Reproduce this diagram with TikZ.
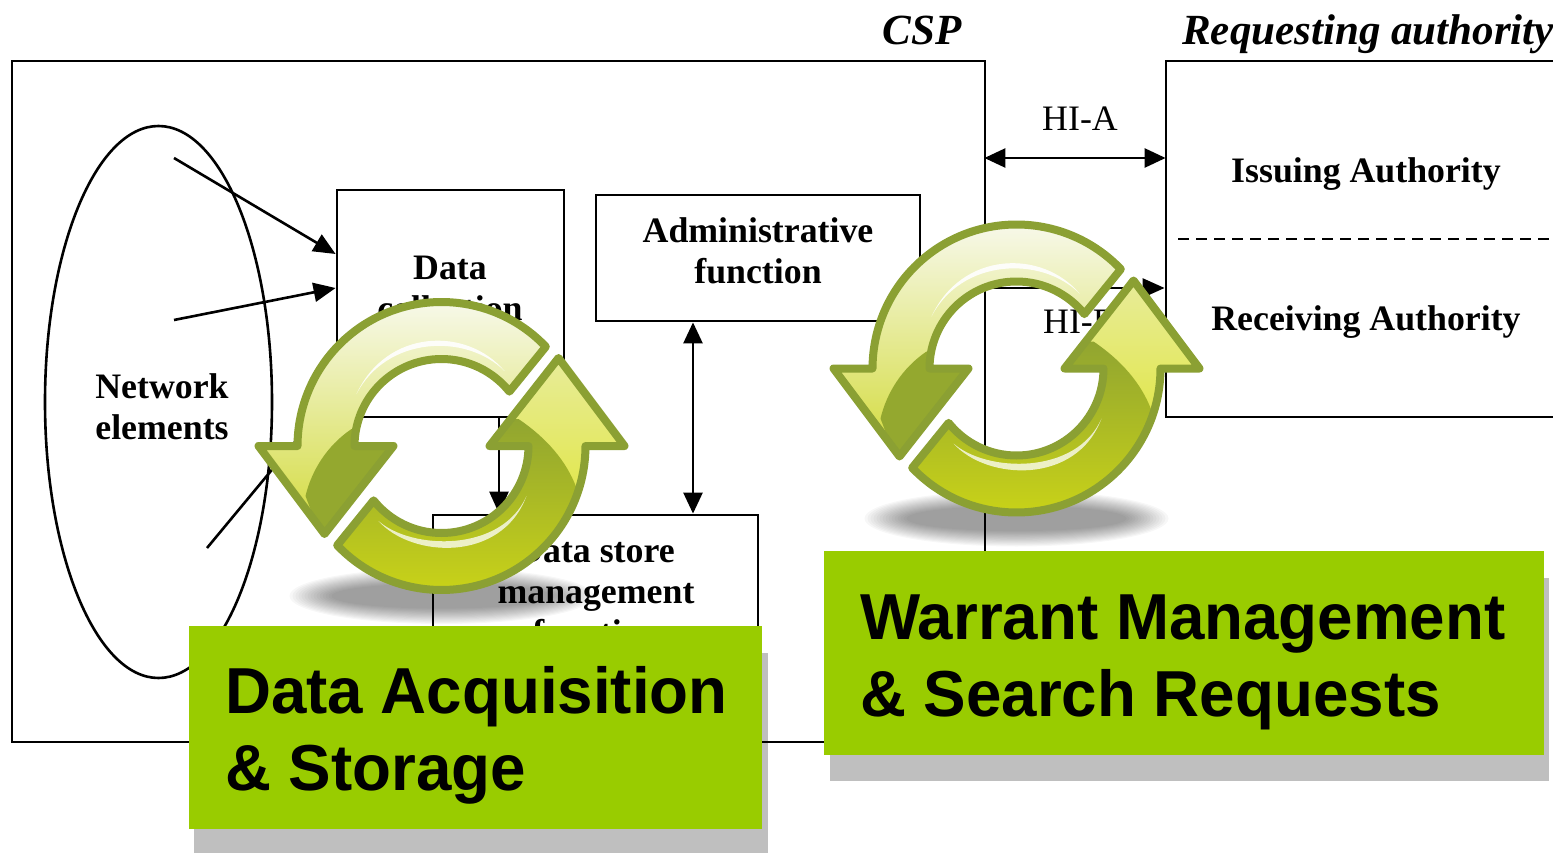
\documentclass[tikz,border=0pt]{standalone}
\usepackage{fontspec}
\setmainfont{Liberation Serif}
\newfontfamily\labelfont[FakeStretch=0.98]{Liberation Sans}
\usetikzlibrary{arrows.meta,calc,shapes.geometric}
\newlength{\du}
\setlength{\du}{1pt}
\definecolor{labelgreen}{HTML}{99CC00}
\definecolor{labelshadow}{HTML}{BFBFBF}
\definecolor{ringline}{HTML}{8BA033}
\tikzset{
  boxnode/.style={draw=black,line width=2.8\du,rectangle,inner sep=0pt},
  plaintext/.style={inner sep=0pt,align=center,font=\fontsize{35.8}{41}\selectfont},
  boldtext/.style={plaintext,font=\fontsize{35.8}{41}\selectfont\bfseries},
  titletext/.style={plaintext,font=\fontsize{43}{48}\selectfont\bfseries\itshape},
  linkline/.style={line width=2.6\du,{Triangle[length=21pt,width=19pt]}-{Triangle[length=21pt,width=19pt]}},
  feedline/.style={line width=2.6\du,-{Triangle[length=22pt,width=19pt]}},
  greenlabel/.style={rectangle,fill=labelgreen,inner sep=0pt},
  labeltext/.style={inner sep=0pt,anchor=west,align=left,font=\fontsize{65}{77}\selectfont\labelfont\bfseries},
  greyback/.style={rectangle,fill=labelshadow,inner sep=0pt},
}
\newcommand{\upperarrow}{(104.3\du,-99.3\du) arc[start angle=-43.6,end angle=-180,radius=144\du] -- (-183\du,0\du) -- (-117\du,88\du) -- (-48\du,0\du) -- (-87\du,0\du) arc[start angle=-180,end angle=-38.7,radius=87\du] -- cycle}
\newcommand{\lowerarrow}{(-104.3\du,99.3\du) arc[start angle=136.4,end angle=0,radius=144\du] -- (183\du,0\du) -- (117\du,-88\du) -- (48\du,0\du) -- (87\du,0\du) arc[start angle=0,end angle=141.3,radius=87\du] -- cycle}
\newcommand{\cyclering}[2]{%
\begin{scope}[shift={(#1\du,#2\du)}]
\foreach \k in {0,...,14}
  \fill[black,opacity=0.03] (0\du,150\du) ellipse [x radius={(152-3*\k)*1pt},y radius={(28-1.1*\k)*1pt}];
% upper arrow
\shade[top color=white!95!ringline,bottom color=yellow!55!ringline!85] \upperarrow;
\begin{scope}
\path[clip] \upperarrow;
\fill[color=ringline!92!yellow] (-90\du,-17\du) .. controls (-115\du,0\du) and (-130\du,25\du) .. (-136\du,50\du) -- (-117\du,100\du) -- (-30\du,20\du) -- (-48\du,-17\du) -- cycle;
\end{scope}
\fill[white,opacity=0.9] (-85\du,-52\du) .. controls (-55\du,-117\du) and (25\du,-120\du) .. (63\du,-75\du) .. controls (25\du,-113\du) and (-55\du,-110\du) .. (-85\du,-52\du) -- cycle;
\draw[ringline,line width=8\du,line join=round] \upperarrow;
% lower arrow
\shade[top color=white!70!yellow!80!ringline,bottom color=yellow!70!ringline] \lowerarrow;
\begin{scope}
\path[clip] \lowerarrow;
\shade[top color=ringline!95!yellow,bottom color=yellow!60!ringline] (-160\du,-27\du) -- (77\du,-27\du) .. controls (105\du,-8\du) and (125\du,15\du) .. (135\du,42\du) -- (200\du,42\du) -- (200\du,170\du) -- (-160\du,170\du) -- cycle;
\end{scope}
\fill[white,opacity=0.75] (-63\du,75\du) .. controls (-30\du,112\du) and (60\du,117\du) .. (85\du,50\du) .. controls (60\du,107\du) and (-30\du,104\du) .. (-63\du,75\du) -- cycle;
\draw[ringline,line width=8\du,line join=round] \lowerarrow;
\end{scope}}
\begin{document}
\begin{tikzpicture}
\pgftransformxscale{1.000000}
\pgftransformyscale{-1.000000}
\useasboundingbox (0\du,0\du) rectangle (1553\du,853\du);
% grey backs of the two labels
\node[greyback,minimum width=574\du,minimum height=200\du] (storageback) at (481\du,753\du){};
\node[greyback,minimum width=719\du,minimum height=203\du] (warrantback) at (1189.5\du,679.5\du){};
% boxes
\node[boxnode,minimum width=973\du,minimum height=681\du] (cspbox) at (498.5\du,401.5\du){};
\node[boxnode,minimum width=392\du,minimum height=356\du] (authbox) at (1362\du,239\du){};
\node[draw=black,line width=2.6\du,ellipse,inner sep=0pt,minimum width=227\du,minimum height=552\du] (netellipse) at (158.5\du,402\du){};
\node[boxnode,minimum width=227\du,minimum height=227\du] (databox) at (450.5\du,303.5\du){};
\node[boxnode,minimum width=324\du,minimum height=126\du] (adminbox) at (758\du,258\du){};
\node[boxnode,minimum width=325\du,minimum height=185\du] (storebox) at (595.5\du,607.5\du){};
% texts
\node[titletext] (csptext) at (922\du,30\du){CSP};
\node[titletext] (authtext) at (1368\du,34\du){Requesting authority};
\node[boldtext] (nettext) at (162\du,406.5\du){Network\\elements};
\node[boldtext] (datatext) at (450\du,288.5\du){Data\\collection};
\node[boldtext] (admintext) at (758\du,250.5\du){Administrative\\function};
\node[boldtext] (storetext) at (596\du,592\du){Data store\\management\\function};
\node[boldtext] (issuetext) at (1366\du,174\du){Issuing Authority};
\node[boldtext] (recvtext) at (1366\du,322\du){Receiving Authority};
\node[plaintext] (hiatext) at (1080\du,119\du){HI-A};
\node[plaintext] (hibtext) at (1080\du,322\du){HI-B};
% connectors
\coordinate (feedatop) at (174\du,158\du);
\coordinate (feedbmid) at (174\du,320\du);
\coordinate (feedclow) at (207\du,548\du);
\coordinate (dashfrom) at (1178\du,239\du);
\coordinate (dashto) at (1553\du,239\du);
\coordinate (storelink) at (693\du,0\du);
\coordinate (hialevel) at (0\du,158\du);
\coordinate (hiblevel) at (0\du,288\du);
\draw[feedline] (feedatop)--($(databox.west)+(0\du,-49.5\du)$);
\draw[feedline] (feedbmid)--($(databox.west)+(0\du,-15.5\du)$);
\draw[feedline] (feedclow)--($(databox.west)+(0\du,89.5\du)$);
\draw[feedline] ($(databox.south)+(48.5\du,0\du)$)--($(storebox.north)+(-96.5\du,0\du)$);
\draw[linkline] (adminbox.south -| storelink)--(storebox.north -| storelink);
\draw[linkline,shorten <=-2\du,shorten >=-1\du] (cspbox.east |- hialevel)--(authbox.west |- hialevel);
\draw[feedline] (cspbox.east |- hiblevel)--(authbox.west |- hiblevel);
\draw[line width=2.4\du,dash pattern=on 11\du off 7\du] (dashfrom)--(dashto);
% cycle icons
\cyclering{441.5}{446}
\cyclering{1016.5}{368.5}
% labels
\node[greenlabel,minimum width=573\du,minimum height=203\du] (storagelabel) at (475.5\du,727.5\du){};
\node[labeltext] (storagetext) at (225\du,735.5\du){Data Acquisition\\\& Storage};
\node[greenlabel,minimum width=720\du,minimum height=204\du] (warrantlabel) at (1184\du,653\du){};
\node[labeltext] (warranttext) at (860\du,662\du){Warrant Management\\\& Search Requests};
\end{tikzpicture}
\end{document}
